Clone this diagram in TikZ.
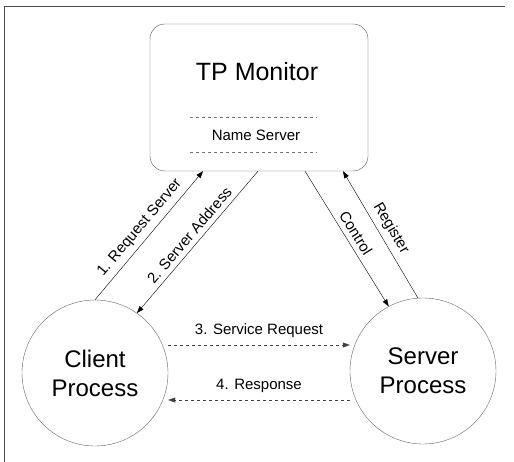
\documentclass[tikz,border=0pt]{standalone}
\usepackage{fontspec}
\setmainfont{Liberation Sans}
\usetikzlibrary{arrows.meta,positioning}

\begin{document}
\begin{tikzpicture}[x=1pt, y=-1pt,
    box/.style={rectangle, draw=black!65, thin, rounded corners=15pt,
                minimum width=218pt, minimum height=147pt, inner sep=0pt},
    proc/.style={circle, draw=black!60, thin, minimum size=146pt, align=center,
                 inner sep=0pt, font=\fontsize{24}{29}\selectfont},
    lbl/.style={font=\fontsize{15}{18}\selectfont, inner sep=2pt},
    arr/.style={-{Triangle[length=7pt,width=5pt]}, thin},
    msg/.style={arr, dashed, black!75}
]
    \useasboundingbox (0,0) rectangle (514,462);
    \draw[thin, black!70] (4,462) -- (4,6) -- (505,6);

    % monitor with the name server part
    \node[box] (monitor) at (259,97.5) {};
    \node[font=\fontsize{25}{30}\selectfont] (title) at (257,72) {TP Monitor};
    \node[lbl] (names) at (256,135) {Name Server};
    \draw[dashed, black!55] (190,117) -- (317,117);
    \draw[dashed, black!55] (190,152) -- (317,152);

    \node[proc] (client) at (95,373) {Client\\Process};
    \node[proc] (server) at (423,371) {Server\\Process};

    \draw[arr] (client.north) -- node[lbl, sloped, above=3pt] {1. Request Server} ([xshift=-56pt]monitor.south);
    \draw[arr] ([xshift=-1pt]monitor.south) -- node[lbl, sloped, above=3pt] {2. Server Address} (client.55);
    \draw[arr] ([xshift=46pt]monitor.south) -- node[lbl, sloped, above=3pt] {Control} (server.118);
    \draw[arr] (server.94) -- node[lbl, sloped, above=3pt] {Register} ([xshift=84pt]monitor.south);

    \draw[msg] ([yshift=28pt]client.east) -- node[lbl, above=5pt, black] {3. Service Request} ([yshift=26pt]server.west);
    \draw[msg] ([yshift=-29pt]server.west) -- node[lbl, above=5pt, black] {4. Response} ([yshift=-27pt]client.east);
\end{tikzpicture}
\end{document}
